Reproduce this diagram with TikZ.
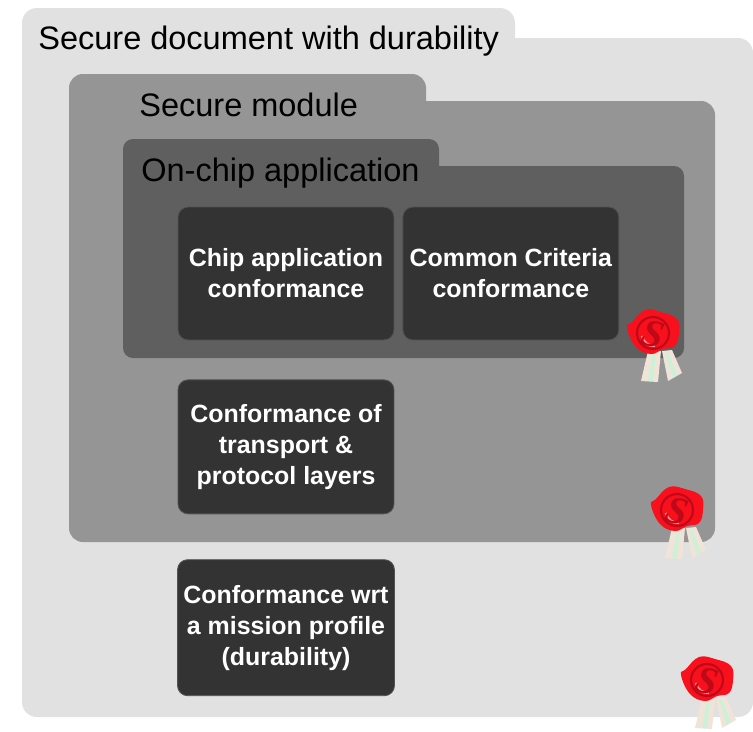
\documentclass[tikz,border=0pt]{standalone}
\usepackage{fontspec}
\setmainfont{Liberation Sans}
\newfontfamily\sealfont{Liberation Serif}
\usepackage{xcolor}
\usepackage{tikz}
\usetikzlibrary{positioning}

\definecolor{docgray}{HTML}{E1E1E1}
\definecolor{modgray}{HTML}{959595}
\definecolor{chipgray}{HTML}{5F5F5F}
\definecolor{boxgray}{HTML}{333333}
\definecolor{waxred}{HTML}{F8101C}
\definecolor{waxdark}{HTML}{BE0A18}
\definecolor{ribboncream}{HTML}{F0E4D8}
\definecolor{ribbongreen}{HTML}{CDF0D8}

\begin{document}
\begin{tikzpicture}[
    x=0.02cm, y=-0.02cm,
    doc/.style={rounded corners=0.3cm, fill=docgray},
    module/.style={rounded corners=0.28cm, fill=modgray},
    onchip/.style={rounded corners=0.2cm, fill=chipgray},
    testbox/.style={rectangle, draw=black!68, line width=0.5pt, fill=boxgray, text=white, minimum width=4.32cm, minimum height=2.66cm, align=center, rounded corners=0.2cm, font=\fontsize{14.2}{17.6}\selectfont\bfseries},
    title/.style={anchor=base west, inner sep=0pt, text=black, font=\fontsize{18.5}{22}\selectfont},
    seal/.pic={
        % ribbons
        \fill[ribboncream] (-5,18) -- (8,18) -- (5,49) -- (-12,48) -- cycle;
        \fill[ribboncream] (9,18) -- (19,17) -- (29,40) -- (15,48) -- cycle;
        \fill[ribbongreen] (0,20) -- (3,20) -- (0,48) -- (-5,48) -- cycle;
        \fill[ribbongreen] (12,20) -- (15,20) -- (24,42) -- (20,45) -- cycle;
        % wax
        \fill[waxred] plot[smooth cycle, tension=0.7] coordinates {(-8,-23) (8,-21) (24,-14) (26,0) (22,13) (10,16) (-2,21) (-17,14) (-26,-5) (-21,-11)};
        \draw[waxdark, line width=1.2pt] (0,0) circle[radius=16];
        \draw[red!40!white, line width=1.3pt] (-11,3) arc[start angle=170, end angle=85, radius=12];
        \node[inner sep=0pt, text=waxdark, rotate=-15, font=\fontsize{22}{22}\selectfont\sealfont\bfseries\itshape] (sealS) at (0,1) {S};
    }
]
\useasboundingbox (0,0) rectangle (753,731);
\clip (0,0) rectangle (753,731);

% Nested folders
\fill[doc] (22,717) -- (22,8) -- (515,8) -- (515,38) [rounded corners=0pt] -- (515,38) [rounded corners=0.3cm] -- (753,38) -- (753,717) -- cycle;
\fill[module] (69,542) -- (69,74) -- (426,74) -- (426,101) [rounded corners=0pt] -- (426,101) [rounded corners=0.28cm] -- (715,101) -- (715,542) -- cycle;
\fill[onchip] (123,358) -- (123,139) -- (439,139) -- (439,166) [rounded corners=0pt] -- (439,166) [rounded corners=0.2cm] -- (684,166) -- (684,358) -- cycle;

% Titles
\node[title] (doctitle) at (38,49) {Secure document with durability};
\node[title] (modtitle) at (139,116) {Secure module};
\node[title] (chiptitle) at (141,181) {On-chip application};

% Conformance boxes
\node[testbox] (chipapp) at (286,273.5) {Chip application\\conformance};
\node[testbox, right=0.16cm of chipapp] (cc) {Common Criteria\\conformance};
\node[testbox, below=0.78cm of chipapp, minimum height=2.68cm] (transport) {Conformance of\\transport \&\\protocol layers};
\node[testbox, below=0.9cm of transport, minimum height=2.72cm] (mission) {Conformance wrt\\a mission profile\\(durability)};

% Seals
\pic at (653,333) {seal};
\pic at (677,510) {seal};
\pic at (707,680) {seal};

\end{tikzpicture}
\end{document}
